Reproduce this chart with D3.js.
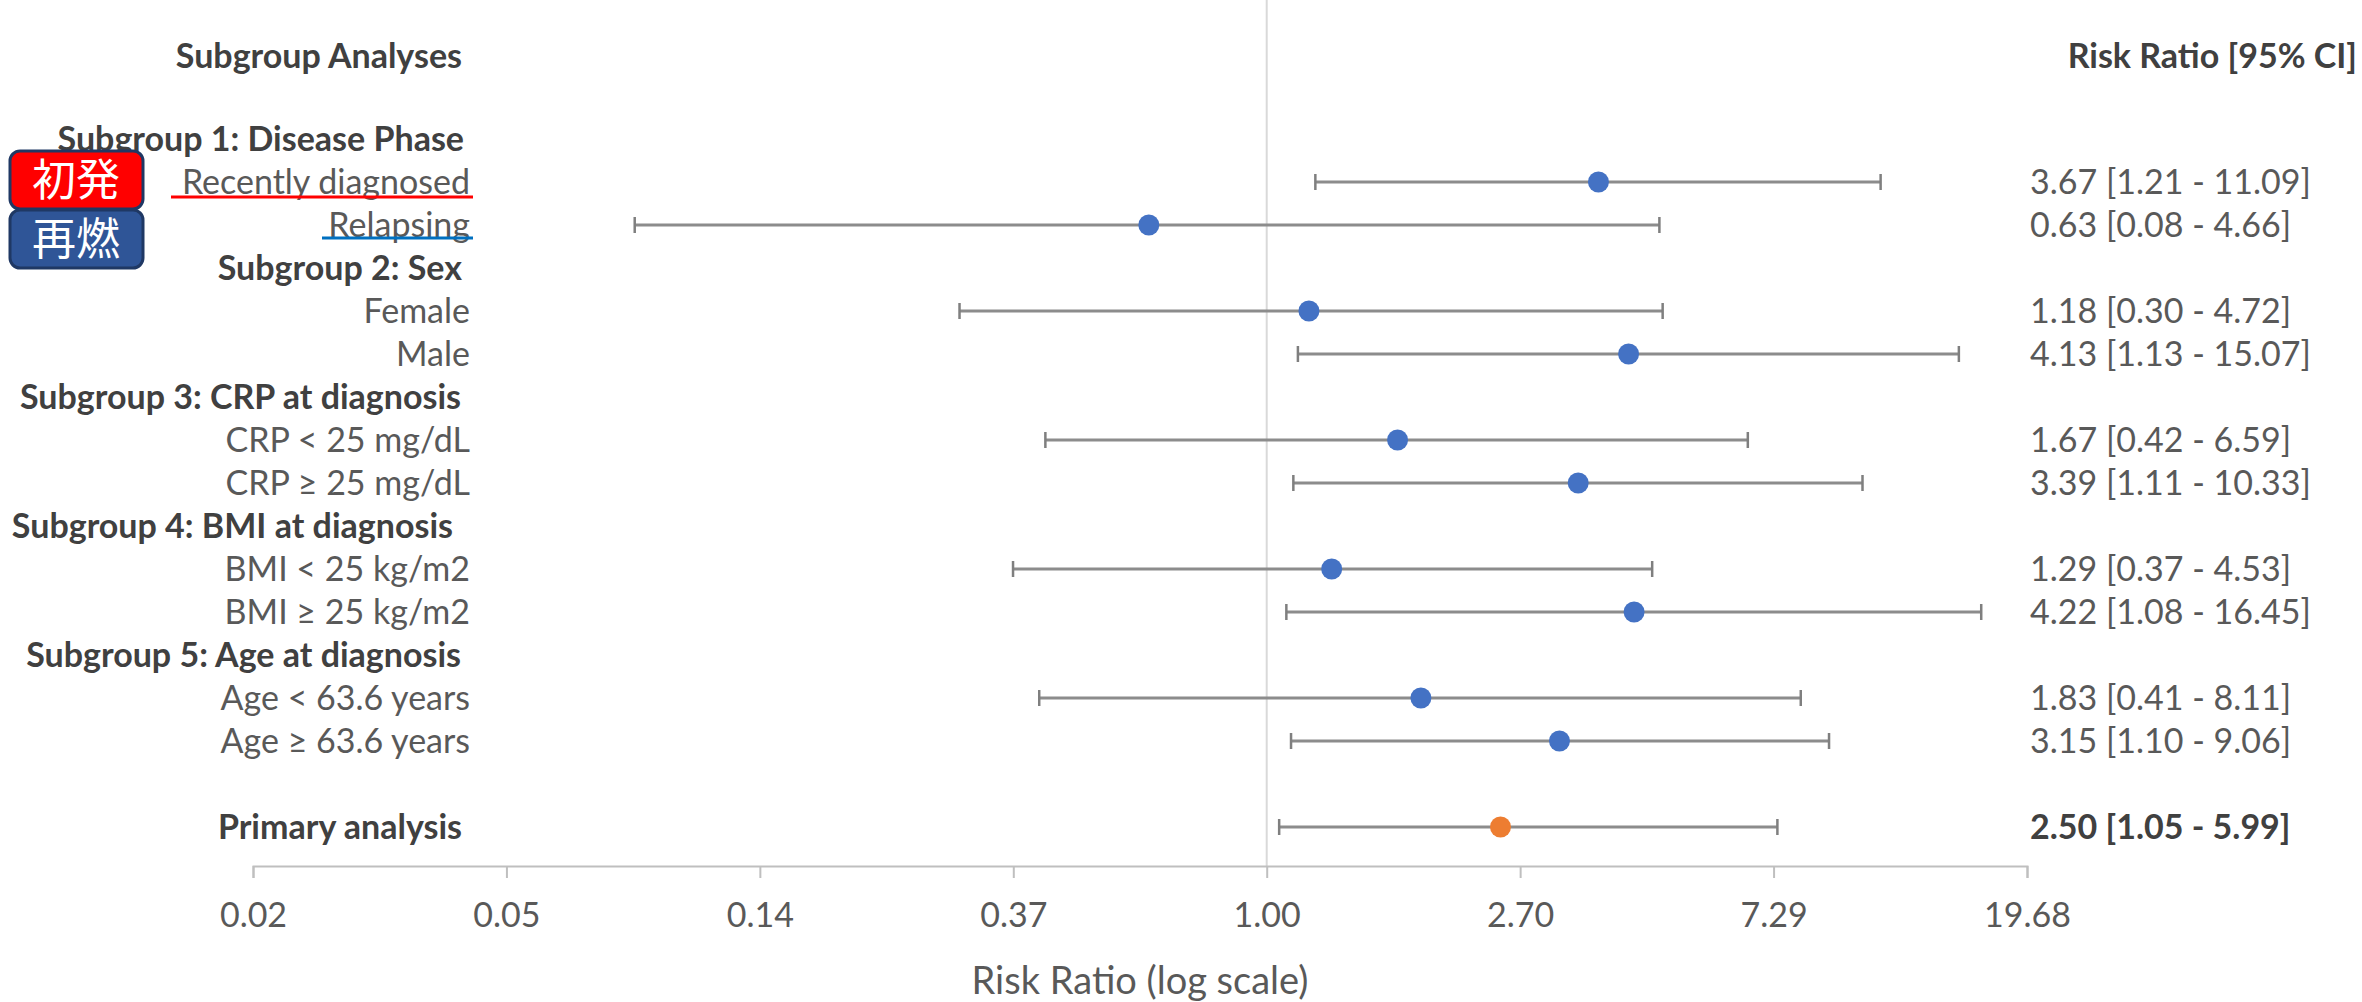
<!DOCTYPE html>
<html>
<head>
<meta charset="utf-8">
<script src="https://cdn.jsdelivr.net/npm/d3@7"></script>
<style>
  body { margin: 0; background: #fff; }
  svg { display: block; }
</style>
</head>
<body>
<div id="drawArea"></div>
<script>
// data
var groupTitles = ["Subgroup 1: Disease Phase", "Subgroup 2: Sex", "Subgroup 3: CRP at diagnosis",
                   "Subgroup 4: BMI at diagnosis", "Subgroup 5: Age at diagnosis"];
var categories = ["Recently diagnosed", "Relapsing", "Female", "Male",
                  "CRP < 25 mg/dL", "CRP \u2265 25 mg/dL", "BMI < 25 kg/m2", "BMI \u2265 25 kg/m2",
                  "Age < 63.6 years", "Age \u2265 63.6 years"];
var riskRatio = [3.67, 0.63, 1.18, 4.13, 1.67, 3.39, 1.29, 4.22, 1.83, 3.15];
var ciLower   = [1.21, 0.084, 0.30, 1.13, 0.42, 1.11, 0.37, 1.08, 0.41, 1.10];
var ciUpper   = [11.09, 4.66, 4.72, 15.07, 6.59, 10.33, 4.53, 16.45, 8.11, 9.06];
var primaryLabel = "Primary analysis";
var primaryValues = [2.50, 1.05, 5.99];   // rr, lower, upper (as printed)
var primaryBar = [1.05, 7.40];            // the bar in the picture runs further than the printed upper
var logBase = 2.7;
var tickPowers = [-4, -3, -2, -1, 0, 1, 2, 3];
var tickLabels = ["0.02", "0.05", "0.14", "0.37", "1.00", "2.70", "7.29", "19.68"];

var W = 2362, H = 1002;
var font = "Lato, Carlito, Calibri, 'Open Sans', sans-serif";
var grey = '#595959';
var dark = '#404040';
var blue = '#4472C4';
var orange = '#ED7D31';
var barColor = '#8C8C8C';
var fs = 34;

var svg = d3.select("#drawArea").append("svg")
  .attr("width", W).attr("height", H)
  .style("background", "#fff");

var tickVals = tickPowers.map(function(p) { return Math.pow(logBase, p); });

var x = d3.scaleLog().base(logBase)
  .domain([tickVals[0], tickVals[tickVals.length - 1]])
  .range([253, 2027]);

var y = d3.scaleLinear().domain([0, 16]).range([139, 827]);
var axisY = 866;

// reference line at 1
svg.append("line")
  .attr("x1", x(1)).attr("x2", x(1))
  .attr("y1", 0).attr("y2", axisY)
  .attr("stroke", "#D9D9D9").attr("stroke-width", 2);

// axis
var axis = d3.axisBottom(x)
  .tickValues(tickVals)
  .tickFormat(function(d, i) { return tickLabels[i]; })
  .tickSize(12)
  .tickPadding(25);

var gAxis = svg.append("g")
  .attr("transform", "translate(0," + axisY + ")")
  .call(axis);
gAxis.select(".domain").attr("stroke", "#BFBFBF").attr("stroke-width", 2);
gAxis.selectAll(".tick line").attr("stroke", "#BFBFBF").attr("stroke-width", 2);
gAxis.selectAll(".tick text")
  .attr("fill", grey)
  .attr("font-family", font)
  .attr("font-size", fs);

svg.append("text")
  .attr("x", (x.range()[0] + x.range()[1]) / 2)
  .attr("y", 981)
  .attr("dy", "0.35em")
  .attr("text-anchor", "middle")
  .attr("font-family", font)
  .attr("font-size", 38)
  .attr("fill", grey)
  .text("Risk Ratio (log scale)");

// column headers
svg.append("text")
  .attr("x", 462).attr("y", 56).attr("dy", "0.35em")
  .attr("text-anchor", "end")
  .attr("font-family", font).attr("font-weight", "bold")
  .attr("font-size", fs).attr("fill", dark)
  .text("Subgroup Analyses");

svg.append("text")
  .attr("x", 2357).attr("y", 56).attr("dy", "0.35em")
  .attr("text-anchor", "end")
  .attr("font-family", font).attr("font-weight", "bold")
  .attr("font-size", fs).attr("fill", dark)
  .text("Risk Ratio [95% CI]");

// group titles
var titleRight = [464, 462, 461, 453, 461];
svg.selectAll("text.group")
  .data(groupTitles)
  .enter()
  .append("text")
    .classed("group", true)
    .attr("x", function(d, i) { return titleRight[i]; })
    .attr("y", function(d, i) { return y(i * 3); })
    .attr("dy", "0.35em")
    .attr("text-anchor", "end")
    .attr("font-family", font).attr("font-weight", "bold")
    .attr("font-size", fs).attr("fill", dark)
    .text(function(d) { return d; });

// rows
var rows = categories.map(function(c, i) {
  return { label: c, rr: riskRatio[i], lo: ciLower[i], hi: ciUpper[i],
           barLo: ciLower[i], barHi: ciUpper[i],
           row: Math.floor(i / 2) * 3 + 1 + (i % 2), primary: false };
});
rows.push({ label: primaryLabel, rr: primaryValues[0], lo: primaryValues[1], hi: primaryValues[2],
            barLo: primaryBar[0], barHi: primaryBar[1], row: 16, primary: true });

svg.selectAll("text.cat")
  .data(rows)
  .enter()
  .append("text")
    .classed("cat", true)
    .attr("x", function(d) { return d.primary ? 462 : 470; })
    .attr("y", function(d) { return y(d.row); })
    .attr("dy", "0.35em")
    .attr("text-anchor", "end")
    .attr("font-family", font)
    .attr("font-weight", function(d) { return d.primary ? "bold" : "normal"; })
    .attr("font-size", fs)
    .attr("fill", function(d) { return d.primary ? dark : grey; })
    .text(function(d) { return d.label; });

// CI bars
svg.selectAll("line.ci")
  .data(rows)
  .enter()
  .append("line")
    .classed("ci", true)
    .attr("x1", function(d) { return x(d.barLo); })
    .attr("x2", function(d) { return x(d.barHi); })
    .attr("y1", function(d) { return y(d.row); })
    .attr("y2", function(d) { return y(d.row); })
    .attr("stroke", barColor).attr("stroke-width", 3);

var caps = [];
rows.forEach(function(d) { caps.push({ v: d.barLo, row: d.row }); caps.push({ v: d.barHi, row: d.row }); });
svg.selectAll("line.cap")
  .data(caps)
  .enter()
  .append("line")
    .classed("cap", true)
    .attr("x1", function(d) { return x(d.v); })
    .attr("x2", function(d) { return x(d.v); })
    .attr("y1", function(d) { return y(d.row) - 8; })
    .attr("y2", function(d) { return y(d.row) + 8; })
    .attr("stroke", "#7F7F7F").attr("stroke-width", 2.5);

// points
svg.selectAll("circle.pt")
  .data(rows)
  .enter()
  .append("circle")
    .classed("pt", true)
    .attr("cx", function(d) { return x(d.rr); })
    .attr("cy", function(d) { return y(d.row); })
    .attr("r", 10.5)
    .attr("fill", function(d) { return d.primary ? orange : blue; });

// value labels
svg.selectAll("text.val")
  .data(rows)
  .enter()
  .append("text")
    .classed("val", true)
    .attr("x", 2030)
    .attr("y", function(d) { return y(d.row); })
    .attr("dy", "0.35em")
    .attr("font-family", font)
    .attr("font-weight", function(d) { return d.primary ? "bold" : "normal"; })
    .attr("font-size", fs)
    .attr("fill", function(d) { return d.primary ? dark : grey; })
    .text(function(d) {
      return d.rr.toFixed(2) + " [" + d.lo.toFixed(2) + " - " + d.hi.toFixed(2) + "]";
    });

// underlines on the first two categories
svg.append("line")
  .attr("x1", 171).attr("x2", 473).attr("y1", 197).attr("y2", 197)
  .attr("stroke", "#FF0000").attr("stroke-width", 3);
svg.append("line")
  .attr("x1", 322).attr("x2", 473).attr("y1", 238).attr("y2", 238)
  .attr("stroke", "#0070C0").attr("stroke-width", 3);

// badges
var badges = [
  { text: "初発", fill: "#FF0000", y: 151 },
  { text: "再燃", fill: "#2F5597", y: 210 }
];
var gb = svg.selectAll("g.badge")
  .data(badges)
  .enter()
  .append("g")
    .classed("badge", true)
    .attr("transform", function(d) { return "translate(10," + d.y + ")"; });
gb.append("rect")
  .attr("width", 133).attr("height", 58).attr("rx", 10)
  .attr("fill", function(d) { return d.fill; })
  .attr("stroke", "#1F3864").attr("stroke-width", 3);
gb.append("text")
  .attr("x", 66).attr("y", 29).attr("dy", "0.36em")
  .attr("text-anchor", "middle")
  .attr("font-family", "'Noto Sans CJK JP', sans-serif")
  .attr("font-size", 44)
  .attr("fill", "#fff")
  .text(function(d) { return d.text; });
</script>
</body>
</html>
